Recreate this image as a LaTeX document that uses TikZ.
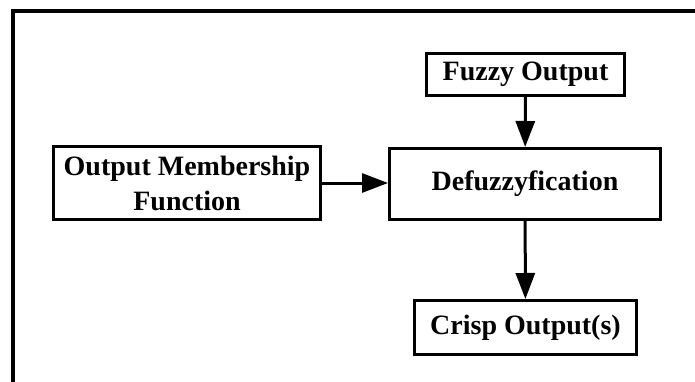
\documentclass[tikz,border=0pt]{standalone}
\usepackage{fontspec}
\setmainfont{Liberation Serif}
\usetikzlibrary{arrows.meta}
\tikzset{
  blk/.style={draw=black, line width=3pt, fill=white, inner sep=0pt, align=center,
    font=\fontsize{28}{35}\selectfont\bfseries},
  conn/.style={line width=3pt, -{Triangle[length=26pt,width=19pt]}},
}
\begin{document}
\begin{tikzpicture}[x=1pt,y=-1pt]
\useasboundingbox (0,0) rectangle (695,382);
\fill[white] (0,0) rectangle (695,382);
\draw[line width=4pt] (13,390) -- (13,11) -- (700,11);
\node[blk, minimum width=267pt, minimum height=73pt] (omf) at (187,183) {Output Membership\\Function};
\node[blk, minimum width=198pt, minimum height=42pt] (fuzzy) at (525.5,74.5) {Fuzzy Output};
\node[blk, minimum width=271pt, minimum height=71pt] (defuzz) at (525,184) {Defuzzyfication};
\node[blk, minimum width=222pt, minimum height=54pt] (crisp) at (525.5,327.5) {Crisp Output(s)};
\draw[conn] (fuzzy) -- (defuzz);
\draw[conn] (omf.east) -- (omf.east -| defuzz.west);
\draw[conn] (defuzz) -- (crisp);
\end{tikzpicture}
\end{document}
